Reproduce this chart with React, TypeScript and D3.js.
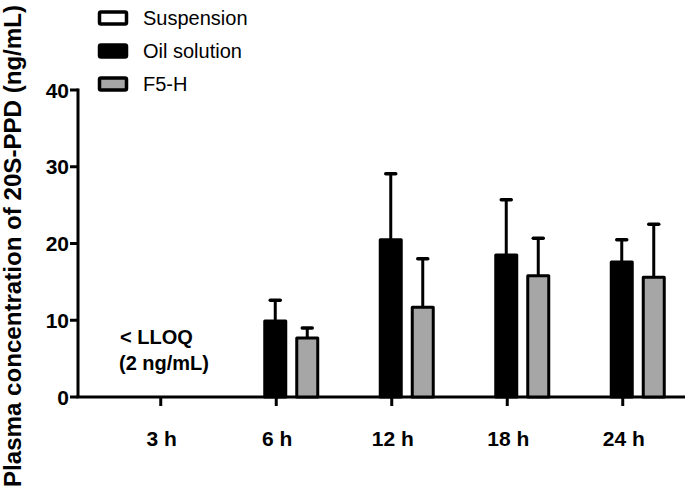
import React from "react";
import * as d3 from "d3";

const categories = ["3 h", "6 h", "12 h", "18 h", "24 h"];
const seriesNames = ["Suspension", "Oil solution", "F5-H"];
const seriesFill = ["#ffffff", "#000000", "#a6a6a6"];
// null = below LLOQ (not drawn)
const suspensionMean: (number | null)[] = [null, null, null, null, null];
const suspensionSD: (number | null)[] = [null, null, null, null, null];
const oilMean: (number | null)[] = [null, 9.9, 20.5, 18.5, 17.6];
const oilSD: (number | null)[] = [null, 2.7, 8.6, 7.2, 2.9];
const f5Mean: (number | null)[] = [null, 7.7, 11.7, 15.8, 15.6];
const f5SD: (number | null)[] = [null, 1.3, 6.3, 4.9, 6.9];
const yTicks = [0, 10, 20, 30, 40];

const means = [suspensionMean, oilMean, f5Mean];
const sds = [suspensionSD, oilSD, f5SD];

export default function App() {
  const W = 688;
  const H = 492;
  const axisX = 78;
  const y = d3.scaleLinear().domain([0, 40]).range([397, 90]);
  const x = d3.scaleBand<string>().domain(categories).range([103, 680.5]).padding(0);
  const sub = d3
    .scaleBand<string>()
    .domain(seriesNames)
    .range([-49, 47])
    .paddingInner(0.25)
    .paddingOuter(0.125);
  const font = "Arial, 'Liberation Sans', sans-serif";
  const capW = 10;

  return (
    <svg width={W} height={H} style={{ position: "absolute", left: 0, top: 0 }} fontFamily={font}>
      <rect width={W} height={H} fill="#fff" />
      {/* Y axis label */}
      <text
        transform={`translate(21,246) rotate(-90)`}
        textAnchor="middle"
        fontWeight="bold"
        fontSize={23}
        textLength={482}
        lengthAdjust="spacingAndGlyphs"
      >
        Plasma concentration of 20S-PPD (ng/mL)
      </text>
      {/* Y axis */}
      <line x1={axisX} x2={axisX} y1={y(40) - 1.5} y2={y(0)} stroke="#000" strokeWidth={3} />
      {yTicks.map((t) => (
        <g key={t}>
          <line x1={axisX - 8} x2={axisX} y1={y(t)} y2={y(t)} stroke="#000" strokeWidth={3} />
          <text x={axisX - 9} y={y(t)} dy="0.36em" textAnchor="end" fontWeight="bold" fontSize={21}>
            {t}
          </text>
        </g>
      ))}
      {/* X axis */}
      <line x1={axisX - 1.5} x2={685} y1={y(0)} y2={y(0)} stroke="#000" strokeWidth={3} />
      {categories.map((c) => {
        const cx = (x(c) as number) + x.bandwidth() / 2;
        return (
          <g key={c}>
            <line x1={cx} x2={cx} y1={y(0)} y2={y(0) + 9} stroke="#000" strokeWidth={3} />
            <text x={cx + 1} y={446} textAnchor="middle" fontWeight="bold" fontSize={21}>
              {c}
            </text>
          </g>
        );
      })}
      {/* Bars */}
      {seriesNames.map((s, si) =>
        categories.map((c, ci) => {
          const m = means[si][ci];
          if (m == null) return null;
          const sd = sds[si][ci] ?? 0;
          const cx = (x(c) as number) + x.bandwidth() / 2;
          const bx = cx + (sub(s) as number);
          const bw = sub.bandwidth();
          const mid = bx + bw / 2;
          return (
            <g key={s + c}>
              <line x1={mid} x2={mid} y1={y(m)} y2={y(m + sd)} stroke="#000" strokeWidth={3} />
              <line
                x1={mid - capW / 2}
                x2={mid + capW / 2}
                y1={y(m + sd)}
                y2={y(m + sd)}
                stroke="#000"
                strokeWidth={3.5}
                strokeLinecap="round"
              />
              <rect
                x={bx + 1.5}
                y={y(m)}
                width={bw - 3}
                height={y(0) - y(m)}
                fill={seriesFill[si]}
                stroke="#000"
                strokeWidth={3}
                strokeLinejoin="round"
              />
            </g>
          );
        })
      )}
      {/* LLOQ note */}
      <text x={120} y={344} fontWeight="bold" fontSize={20}>
        {"< LLOQ"}
      </text>
      <text x={119} y={370} fontWeight="bold" fontSize={20}>
        (2 ng/mL)
      </text>
      {/* Legend */}
      {seriesNames.map((s, i) => (
        <g key={s} transform={`translate(0,${18 + i * 33})`}>
          <rect x={99.5} y={-6} width={27} height={12} fill={seriesFill[i]} stroke="#000" strokeWidth={3.5} rx={1.5} />
          <text x={143} y={0} dy="0.36em" fontSize={20}>
            {s}
          </text>
        </g>
      ))}
    </svg>
  );
}
